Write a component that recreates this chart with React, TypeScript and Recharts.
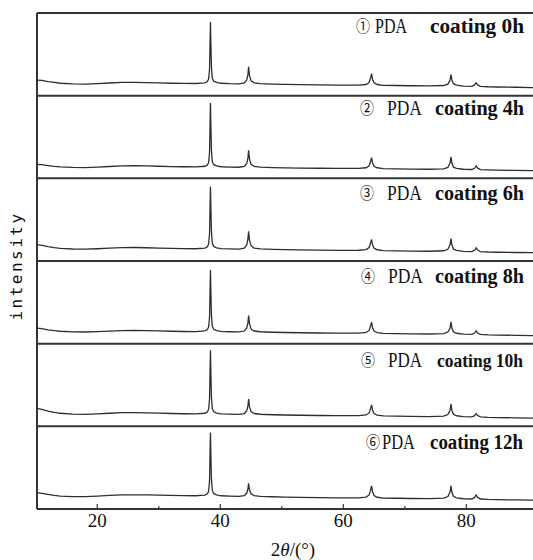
import { LineChart, Line, XAxis, YAxis, ReferenceLine } from "recharts";

// 2θ sample points (degrees), shared by all six patterns
const twoTheta = [
  10, 11, 12, 13, 14, 16, 18, 20, 22, 24, 26, 28, 30, 32, 34, 36,
  37.5, 37.9, 38.1, 38.25, 38.4, 38.55, 38.7, 38.95, 39.4, 40.1,
  41.5, 43, 43.9, 44.3, 44.5, 44.6, 44.75, 45.0, 45.5, 46.5,
  48.5, 50.5, 53, 56, 59, 62.5, 63.7, 64.2, 64.45, 64.6, 64.75, 65.0, 65.5, 66.5,
  68.5, 71, 74, 76.3, 77.0, 77.35, 77.5, 77.65, 77.9, 78.4, 79.5,
  80.9, 81.35, 81.6, 81.85, 82.3, 83.5, 85, 88, 91,
];

// relative intensity, 0–100 inside each panel
const coat0h = [
  19, 18.5, 17, 16, 15, 14.2, 14, 14.5, 15.3, 16, 16, 15.7, 15.5, 15, 14.8, 14.7,
  15.5, 17, 20, 32, 89, 36, 21, 17.5, 16, 15,
  14.5, 14.3, 15.5, 19, 26, 35, 24, 18, 15.5, 14.5,
  14, 13.6, 13.3, 13, 12.7, 12.8, 13.5, 16, 22, 26.5, 19.5, 15.5, 13.5, 12.5,
  12.3, 12, 11.8, 12.3, 14, 19, 25.5, 19, 14.5, 12.8, 11.6,
  11.3, 13, 15.5, 13, 11.3, 10.8, 10.5, 10.2, 9.8,
];
const coat4h = [
  17, 16.5, 15.5, 14.5, 13.8, 13.2, 13, 13.5, 14.3, 15, 15.2, 15, 14.6, 14.2, 14, 13.8,
  14.6, 16, 19, 31, 91, 35, 20, 16.5, 15, 14,
  13.6, 13.4, 14.5, 18, 25, 34, 23, 17, 14.5, 13.6,
  13, 12.7, 12.4, 12.2, 12, 12.1, 12.8, 15, 21, 25, 18.5, 14.5, 12.8, 11.8,
  11.5, 11.2, 11, 11.5, 13.2, 18.5, 26, 18.5, 13.5, 12, 11,
  10.7, 12.2, 15, 12.3, 10.6, 10.2, 9.9, 9.6, 9.3,
];
const coat6h = [
  20, 19, 17.5, 16.3, 15.3, 14.5, 14.3, 14.8, 15.5, 16.2, 16.3, 16, 15.6, 15.2, 15, 14.8,
  15.6, 17.2, 20.5, 33, 90, 37, 21.5, 17.6, 16, 15,
  14.6, 14.4, 15.6, 19.5, 27, 36, 25, 18.5, 15.6, 14.6,
  14, 13.7, 13.4, 13.1, 12.9, 13, 13.8, 16.3, 22.5, 26, 19.5, 15.5, 13.6, 12.6,
  12.3, 12, 11.8, 12.4, 14.2, 19.5, 27, 19.5, 14.6, 12.8, 11.7,
  11.4, 13, 16, 13.2, 11.4, 10.9, 10.6, 10.3, 10,
];
const coat8h = [
  19, 18.2, 16.8, 15.8, 15, 14.3, 14.1, 14.5, 15.2, 15.8, 16, 15.8, 15.4, 15, 14.7, 14.6,
  15.4, 17, 20, 32, 89, 35.5, 21, 17.3, 15.8, 14.8,
  14.4, 14.2, 15.3, 18.8, 25.5, 34, 24, 17.8, 15.3, 14.4,
  13.8, 13.5, 13.2, 12.9, 12.7, 12.8, 13.6, 16, 22, 26, 19.2, 15.2, 13.4, 12.4,
  12.2, 11.9, 11.7, 12.2, 14, 19, 26.5, 19, 14.3, 12.6, 11.5,
  11.2, 12.8, 15.5, 12.9, 11.2, 10.7, 10.4, 10.1, 9.8,
];
const coat10h = [
  22, 20.5, 18.5, 17, 15.8, 14.8, 14.5, 15, 15.8, 16.5, 16.6, 16.3, 15.9, 15.5, 15.2, 15,
  15.8, 17.4, 20.8, 33, 92, 36, 21.5, 17.6, 16.1, 15.1,
  14.7, 14.5, 15.5, 18.8, 25, 33, 23.5, 17.8, 15.5, 14.6,
  14, 13.7, 13.4, 13.1, 12.9, 13, 13.8, 16.2, 22, 26, 19.5, 15.4, 13.6, 12.6,
  12.3, 12, 11.8, 12.4, 14.2, 19.5, 27, 19.5, 14.6, 12.8, 11.7,
  11.4, 12.9, 15.5, 13, 11.4, 10.9, 10.6, 10.3, 10,
];
const coat12h = [
  20, 19, 17.6, 16.5, 15.6, 15, 15, 15.6, 16.4, 17, 17.2, 17, 16.7, 16.4, 16.2, 16,
  16.8, 18.3, 21.5, 34, 92.5, 37, 22.5, 18.5, 17, 16,
  15.6, 15.3, 16.2, 19.3, 24.5, 31, 23, 18.4, 16.2, 15.3,
  14.8, 14.4, 14, 13.7, 13.4, 13.5, 14.4, 17, 23.5, 28, 20.5, 16.2, 14.2, 13.2,
  13, 12.7, 12.5, 13.1, 15, 20.5, 28, 20.5, 15.4, 13.5, 12.4,
  12.1, 14, 17, 14, 12.1, 11.6, 11.3, 11, 10.7,
];

const patterns = [coat0h, coat4h, coat6h, coat8h, coat10h, coat12h];
const circled = ["①", "②", "③", "④", "⑤", "⑥"];
const hours = ["coating 0h", "coating 4h", "coating 6h", "coating 8h", "coating 10h", "coating 12h"];
const xTicks = [20, 30, 40, 50, 60, 70, 80];
const xLabelTicks = [20, 40, 60, 80];

const data = twoTheta.map((t, i) => {
  const row: Record<string, number> = { t };
  patterns.forEach((p, k) => (row[`p${k}`] = p[i]));
  return row;
});

const INK = "#333";
const SERIF = "Liberation Serif, Times New Roman, serif";

// where each panel's label sits: [baseline, markX, pdaX, pdaW, coatX, coatW, coatSize]
const labelPos = [
  [33, 356, 375, 32, 430, 94, 20],
  [115, 360, 387, 35, 435, 89, 20],
  [200, 360, 387, 35, 435, 89, 20],
  [283, 361, 388, 35, 435, 89, 20],
  [367, 361, 388, 34, 437, 86, 18],
  [449, 366, 382, 33, 430, 93, 20],
];

function Tick(props: any) {
  const { x, y, payload } = props;
  const major = xLabelTicks.includes(payload.value);
  return (
    <g>
      <line x1={x} x2={x} y1={y} y2={y - (major ? 5 : 3)} stroke={INK} strokeWidth={1.2} />
      {major && (
        <text x={x} y={y + 18} textAnchor="middle" fontFamily={SERIF} fontSize={19} fill="#111">
          {payload.value}
        </text>
      )}
    </g>
  );
}

export default function App() {
  return (
    <div style={{ position: "absolute", left: 0, top: 0, width: 533, height: 560, overflow: "hidden", background: "#fff" }}>
      <LineChart width={540} height={560} data={data} margin={{ top: 13, right: 6, bottom: 21, left: 37 }}>
        <XAxis
          dataKey="t"
          type="number"
          domain={[10.2, 91]}
          ticks={xTicks}
          interval={0}
          tickSize={0}
          tickMargin={0}
          tickLine={false}
          tick={<Tick />}
          height={30}
          axisLine={{ stroke: INK, strokeWidth: 2 }}
          allowDataOverflow
        />
        {patterns.map((_, k) => (
          <YAxis key={k} yAxisId={`p${k}`} hide type="number" domain={[-(5 - k) * 100, (k + 1) * 100]} allowDataOverflow />
        ))}
        {[100, 200, 300, 400, 500, 600].map((v) => (
          <ReferenceLine key={v} yAxisId="p5" y={v} stroke={INK} strokeWidth={2} ifOverflow="visible" />
        ))}
        <ReferenceLine yAxisId="p5" x={10.2} stroke={INK} strokeWidth={2} ifOverflow="visible" />
        {patterns.map((_, k) => (
          <Line
            key={k}
            yAxisId={`p${k}`}
            dataKey={`p${k}`}
            type="linear"
            stroke="#2e2e2e"
            strokeWidth={1.3}
            dot={false}
            isAnimationActive={false}
          />
        ))}
      </LineChart>
      <svg width={533} height={560} style={{ position: "absolute", left: 0, top: 0, pointerEvents: "none" }}>
        <text
          transform="translate(22,266) rotate(-90)"
          textAnchor="middle"
          fontFamily="DejaVu Sans Mono, monospace"
          fontSize={16}
          letterSpacing={2.5}
          fill="#111"
        >
          intensity
        </text>
        <text x={293} y={556} textAnchor="middle" fontFamily={SERIF} fontSize={19} fill="#111">
          2<tspan fontStyle="italic">θ</tspan>/(°)
        </text>
        {labelPos.map(([b, mx, px, pw, cx, cw, cs], k) => (
          <g key={k} fill="#111">
            <text x={mx} y={b - 1} fontFamily="Noto Sans CJK SC, DejaVu Sans, sans-serif" fontSize={16} textLength={14} lengthAdjust="spacingAndGlyphs">
              {circled[k]}
            </text>
            <text x={px} y={b} fontFamily={SERIF} fontSize={20} textLength={pw} lengthAdjust="spacingAndGlyphs">
              PDA
            </text>
            <text x={cx} y={b} fontFamily={SERIF} fontSize={cs} fontWeight="bold" textLength={cw} lengthAdjust="spacingAndGlyphs">
              {hours[k]}
            </text>
          </g>
        ))}
      </svg>
    </div>
  );
}
